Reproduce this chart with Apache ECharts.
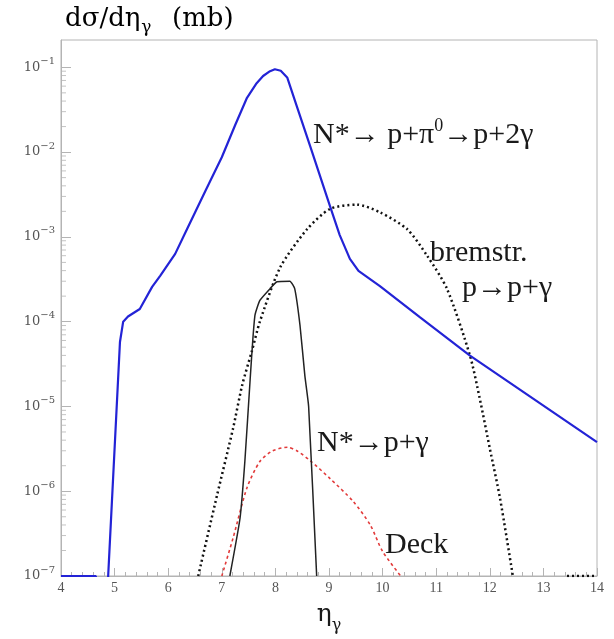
<!DOCTYPE html>
<html><head><meta charset="utf-8">
<script src="https://cdn.jsdelivr.net/npm/echarts@6/dist/echarts.min.js"></script>
<style>html,body{margin:0;padding:0;background:#fff}#c{width:614px;height:639px}</style>
</head><body><div id="c"></div>
<script>
// ---- data ----
const xMin = 4, xMax = 14, xStep = 1;
const yMin = 1e-7, yMax = 0.21;
const yMinorMantissas = [2,3,4,5,6,7,8,9];
const yDecades = [-7,-6,-5,-4,-3,-2];

// N* -> p + pi0 -> p + 2 gamma (blue)
const etaBlue = [4.0, 4.65, 4.70, 4.86, 4.88, 5.10, 5.16, 5.25, 5.47, 5.70, 5.85, 6.13, 6.35, 6.70, 7.00, 7.25, 7.47, 7.65, 7.77, 7.90, 7.99, 8.10, 8.22, 8.40, 8.65, 9.02, 9.20, 9.39, 9.55, 9.95, 10.70, 11.63, 14.0];
const valBlue = [1.0e-7, 1.0e-7, 1e-8, 1e-8, 1.0e-7, 5.75e-5, 1.0e-4, 1.15e-4, 1.41e-4, 2.57e-4, 3.47e-4, 6.3e-4, 1.23e-3, 3.55e-3, 8.7e-3, 2.09e-2, 4.37e-2, 6.5e-2, 7.9e-2, 9.0e-2, 9.5e-2, 9.1e-2, 7.6e-2, 3.47e-2, 1.17e-2, 2.29e-3, 1.05e-3, 5.5e-4, 3.98e-4, 2.63e-4, 1.12e-4, 3.98e-5, 3.8e-6];

// bremsstrahlung p -> p + gamma (black dotted)
const etaBrem = [6.56, 6.91, 7.21, 7.38, 7.56, 7.71, 8.09, 8.59, 9.02, 9.52, 9.95, 10.46, 10.83, 11.20, 11.63, 11.81, 12.00, 12.19, 12.43];
const valBrem = [1.0e-7, 8.9e-7, 5.5e-6, 1.78e-5, 4.47e-5, 1.0e-4, 4.37e-4, 1.23e-3, 2.14e-3, 2.4e-3, 1.95e-3, 1.23e-3, 6.0e-4, 2.45e-4, 3.98e-5, 1.26e-5, 3.2e-6, 8.3e-7, 1.0e-7];
const etaBremTail = [13.44, 14.0];
const valBremTail = [1.0e-7, 1.0e-7];

// N* -> p + gamma (black solid)
const etaNg = [7.15, 7.34, 7.43, 7.53, 7.58, 7.62, 7.71, 7.90, 8.03, 8.27, 8.36, 8.46, 8.55, 8.62, 8.77];
const valNg = [1.0e-7, 4.8e-7, 2.24e-6, 2.14e-5, 6.3e-5, 1.2e-4, 1.78e-4, 2.45e-4, 2.95e-4, 3.0e-4, 2.45e-4, 8.9e-5, 2.29e-5, 1.0e-5, 1.0e-7];

// Deck (red dashed)
const etaDeck = [7.00, 7.21, 7.47, 7.71, 7.95, 8.23, 8.40, 8.65, 9.02, 9.45, 9.77, 10.00, 10.40];
const valDeck = [1.0e-7, 2.8e-7, 1.1e-6, 2.24e-6, 3.0e-6, 3.3e-6, 3.0e-6, 2.29e-6, 1.41e-6, 7.6e-7, 4.0e-7, 1.95e-7, 8.9e-8];

// ---- chart ----
const zip = (a, b) => a.map((v, i) => [v, b[i]]);
const minorTickVals = [];
yDecades.forEach(e => yMinorMantissas.forEach(m => minorTickVals.push([xMin, m * Math.pow(10, e)])));

const SERIF = "'Liberation Serif', 'DejaVu Serif', serif";
const WIDE = "'DejaVu Serif', 'Liberation Serif', serif";
const INK = '#1a1a1a';
const chart = echarts.init(document.getElementById('c'), null, {renderer: 'canvas'});
const annRich = {
  t: {fontSize: 30, fontFamily: SERIF, color: INK, lineHeight: 36, verticalAlign: 'middle'},
  s: {fontSize: 18, fontFamily: SERIF, color: INK, lineHeight: 36, verticalAlign: 'top'}
};
const txt = (x, y, text) => ({
  type: 'text', x: x, y: y, silent: true,
  style: {text: text, rich: annRich, align: 'left', verticalAlign: 'middle', fill: INK, font: '30px ' + SERIF}
});

chart.setOption({
  backgroundColor: '#ffffff',
  animation: false,
  grid: {left: 61, right: 17, top: 40, bottom: 61, show: true, borderColor: '#b4b4b4', borderWidth: 1, backgroundColor: 'transparent'},
  xAxis: {
    type: 'value', min: xMin, max: xMax, interval: xStep,
    name: '{e|η}{g|γ}', nameLocation: 'middle', nameGap: 18,
    nameTextStyle: {
      rich: {
        e: {fontSize: 25, fontFamily: WIDE, color: INK, lineHeight: 40, verticalAlign: 'middle'},
        g: {fontSize: 16, fontFamily: WIDE, color: INK, lineHeight: 14, verticalAlign: 'bottom'}
      }
    },
    axisLine: {show: true, lineStyle: {color: '#b4b4b4', width: 1}},
    axisTick: {show: true, inside: true, length: 8, lineStyle: {color: '#b4b4b4'}},
    minorTick: {show: true, splitNumber: 5, length: 4, lineStyle: {color: '#b4b4b4'}},
    splitLine: {show: false},
    axisLabel: {margin: 5, color: '#555', fontSize: 14, fontFamily: SERIF}
  },
  yAxis: {
    type: 'log', logBase: 10, min: yMin, max: yMax,
    axisLine: {show: true, lineStyle: {color: '#b4b4b4', width: 1}},
    axisTick: {show: true, inside: true, length: 10, lineStyle: {color: '#b4b4b4'}},
    splitLine: {show: false},
    axisLabel: {
      margin: 6, showMaxLabel: false,
      formatter: function (v) {
        const l = Math.log10(v), e = Math.round(l);
        if (Math.abs(l - e) > 1e-6) return '';
        return '{a|10}{b|−' + Math.abs(e) + '}';
      },
      rich: {
        a: {fontSize: 13, fontFamily: WIDE, color: '#555', lineHeight: 22, verticalAlign: 'middle'},
        b: {fontSize: 10, fontFamily: WIDE, color: '#555', lineHeight: 12, verticalAlign: 'top'}
      }
    }
  },
  graphic: [
    {
      type: 'text', x: 65, y: 19, silent: true,
      style: {
        text: '{m|dσ/dη}{g|γ}{m|  (mb)}', align: 'left', verticalAlign: 'middle',
        rich: {
          m: {fontSize: 26, fontFamily: WIDE, fontWeight: 'normal', color: '#222', lineHeight: 34, verticalAlign: 'middle'},
          g: {fontSize: 17, fontFamily: WIDE, color: '#222', lineHeight: 17, verticalAlign: 'bottom', padding: [0, 4, 0, 1]}
        }
      }
    },
    txt(313, 135, '{t|N*→ p+π}{s|0}{t|→p+2γ}'),
    txt(430, 253, '{t|bremstr.}'),
    txt(462, 288, '{t|p→p+γ}'),
    txt(317, 443, '{t|N*→p+γ}'),
    txt(385, 545, '{t|Deck}')
  ],
  series: [
    {type: 'scatter', data: minorTickVals, symbol: 'rect', symbolSize: [5, 1], symbolOffset: [2.5, 0],
     itemStyle: {color: '#b4b4b4'}, silent: true, clip: false, z: 1},
    {type: 'line', data: zip(etaBrem, valBrem), showSymbol: false, smooth: 0.25, clip: true,
     lineStyle: {color: '#111', width: 2.5, type: [2, 3]}},
    {type: 'line', data: zip(etaBremTail, valBremTail), showSymbol: false, clip: true,
     lineStyle: {color: '#111', width: 2.5, type: [2, 3]}},
    {type: 'line', data: zip(etaDeck, valDeck), showSymbol: false, smooth: 0.25, clip: true,
     lineStyle: {color: '#e23a3a', width: 1.6, type: [3, 3]}},
    {type: 'line', data: zip(etaNg, valNg), showSymbol: false, smooth: 0.15, clip: true,
     lineStyle: {color: '#222', width: 1.5}},
    {type: 'line', data: zip(etaBlue, valBlue), showSymbol: false, clip: true,
     lineStyle: {color: '#2323d6', width: 2.2}}
  ]
});
</script>
</body></html>
